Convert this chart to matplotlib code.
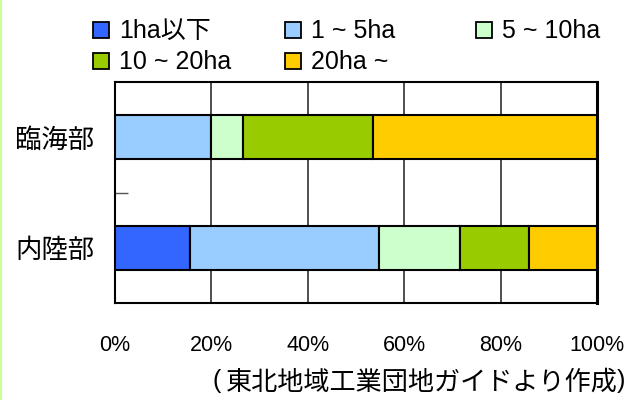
import matplotlib
matplotlib.use("Agg")
import matplotlib.pyplot as plt
from matplotlib.patches import Rectangle
from matplotlib.lines import Line2D
import numpy as np

plt.rcParams['font.family'] = ['Liberation Sans', 'Noto Sans CJK JP', 'DejaVu Sans']

categories = ['臨海部', '内陸部']
series_names = ['1ha以下', '1 ~ 5ha', '5 ~ 10ha', '10 ~ 20ha', '20ha ~']
colors = ['#3366FF', '#99CCFF', '#CCFFCC', '#99CC00', '#FFCC00']
values = {
    '臨海部': [0.0, 20.0, 6.6, 26.9, 46.5],
    '内陸部': [15.6, 39.2, 16.8, 14.2, 14.2],
}
xticks = [0, 20, 40, 60, 80, 100]
xtick_labels = ['0%', '20%', '40%', '60%', '80%', '100%']
source = '東北地域工業団地ガイドより作成'

W, H = 627, 400
fig = plt.figure(figsize=(W / 100, H / 100), dpi=100)
ax = fig.add_axes([115 / W, 1 - 303 / H, (597 - 115) / W, (303 - 82) / H])

ypos = np.arange(len(categories)) + 0.5
for ci, cat in enumerate(categories):
    left = 0.0
    for si, v in enumerate(values[cat]):
        if v > 0:
            ax.barh(ypos[ci], v, left=left, height=0.395, color=colors[si],
                    edgecolor='black', linewidth=1.5, zorder=3)
        left += v

ax.set_xlim(0, 100)
ax.set_ylim(2, 0)
for x in xticks[1:-1]:
    ax.axvline(x, color='#404040', linewidth=1.3, zorder=1)

ax.set_xticks(xticks)
ax.set_xticklabels(xtick_labels, fontsize=15.5)
ax.tick_params(axis='x', length=0, pad=23)
ax.set_yticks(ypos)
ax.set_yticklabels(categories, fontsize=19, family=['Noto Sans CJK JP'])
ax.tick_params(axis='y', length=0, pad=15)
ax.set_yticks([1.0], minor=True)
ax.tick_params(axis='y', which='minor', direction='in', length=9, width=1, color='#555555')

for s in ['left', 'bottom', 'top']:
    ax.spines[s].set_linewidth(1.5)
    ax.spines[s].set_color('black')
ax.spines['right'].set_linewidth(2.2)
ax.spines['right'].set_color('black')

# legend drawn manually (Excel-style equal columns)
col_x = [93, 285, 476]
row_y = [30, 61]
for i, (name, c) in enumerate(zip(series_names, colors)):
    r, col = divmod(i, 3)
    x0, yc = col_x[col], row_y[r]
    fig.patches.append(Rectangle((x0 / W, 1 - (yc + 8) / H), 16 / W, 16 / H,
                                 transform=fig.transFigure, facecolor=c,
                                 edgecolor='black', linewidth=1.3))
    fig.text((x0 + 26) / W, 1 - (yc + 1) / H, name, fontsize=18, va='center', ha='left')

# source note: parentheses drawn separately so they sit tight to the edge
fig.text(212 / W, 1 - 381 / H, '(', fontsize=18, va='center', ha='left',
         family=['Liberation Sans'])
fig.text(226 / W, 1 - 382 / H, source, fontsize=18.8, va='center', ha='left',
         family=['Noto Sans CJK JP'])
fig.text(625 / W, 1 - 381 / H, ')', fontsize=18, va='center', ha='right',
         family=['Liberation Sans'])

fig.add_artist(Line2D([1 / W, 1 / W], [0, 1], transform=fig.transFigure,
                      color='#CCFF99', linewidth=1.5))

fig.savefig('out.png', dpi=100)
